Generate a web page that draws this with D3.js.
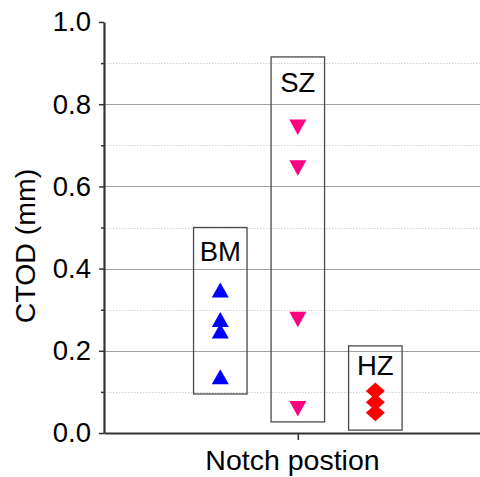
<!DOCTYPE html>
<html><head><meta charset="utf-8">
<script src="https://cdn.jsdelivr.net/npm/d3@7"></script>
<style>body{margin:0;background:#fff}svg{display:block}</style>
</head><body><svg id="c" width="480" height="477"></svg>
<script>
// ---- data ----
const groups = ["BM", "SZ", "HZ"];
const groupPos = [1, 2, 3];
const bmValues = [0.348, 0.276, 0.248, 0.137];
const szValues = [0.744, 0.645, 0.276, 0.059];
const hzValues = [0.102, 0.075, 0.049];
const boxLow = [0.095, 0.027, 0.007];
const boxHigh = [0.5, 0.915, 0.212];
const labelValues = [0.418, 0.829, 0.141];
const yTicks = [0.0, 0.2, 0.4, 0.6, 0.8, 1.0];
const yMinorTicks = [0.1, 0.3, 0.5, 0.7, 0.9];
const xTicks = [2];
const yTitle = "CTOD (mm)";
const xTitle = "Notch postion";

// ---- layout ----
const pLeft = 104, pRight = 480, pTop = 22, pBottom = 433;
const svg = d3.select("#c");
const x = d3.scaleLinear().domain([-0.5, 4.35]).range([pLeft, pRight]);
const y = d3.scaleLinear().domain([0, 1]).range([pBottom, pTop]);
const font = "'Liberation Sans', Arial, sans-serif";

// grid
svg.append("g").selectAll("line").data(yMinorTicks).join("line")
  .attr("x1", pLeft).attr("x2", pRight)
  .attr("y1", d => Math.round(y(d)) + 0.5).attr("y2", d => Math.round(y(d)) + 0.5)
  .attr("stroke", "#d4d4d4").attr("stroke-width", 1).attr("stroke-dasharray", "1.5,1.5");
svg.append("g").selectAll("line").data(yTicks.filter(d => d > 0 && d < 1)).join("line")
  .attr("x1", pLeft).attr("x2", pRight)
  .attr("y1", d => Math.round(y(d)) + 0.5).attr("y2", d => Math.round(y(d)) + 0.5)
  .attr("stroke", "#a0a0a0").attr("stroke-width", 1);

// boxes
const boxHalf = 0.345;
svg.append("g").selectAll("rect").data(groups).join("rect")
  .attr("x", (d, i) => x(groupPos[i] - boxHalf))
  .attr("width", (d, i) => x(groupPos[i] + boxHalf) - x(groupPos[i] - boxHalf))
  .attr("y", (d, i) => y(boxHigh[i]))
  .attr("height", (d, i) => y(boxLow[i]) - y(boxHigh[i]))
  .attr("fill", "none").attr("stroke", "#4a4a4a").attr("stroke-width", 1.3);

// labels
svg.append("g").selectAll("text").data(groups).join("text")
  .attr("x", (d, i) => x(groupPos[i]))
  .attr("y", (d, i) => y(labelValues[i]))
  .attr("text-anchor", "middle")
  .attr("font-family", font).attr("font-size", 27.5).attr("fill", "#000")
  .text(d => d);

// markers
const up = (w, h) => `M0,${-h/2}L${w/2},${h/2}L${-w/2},${h/2}Z`;
const down = (w, h) => `M${-w/2},${-h/2}L${w/2},${-h/2}L0,${h/2}Z`;
const diamond = (w, h) => `M0,${-h/2}L${w/2},0L0,${h/2}L${-w/2},0Z`;
svg.append("g").selectAll("path").data(bmValues).join("path")
  .attr("transform", d => `translate(${x(groupPos[0])},${y(d)})`)
  .attr("d", up(17, 15)).attr("fill", "#0000ff");
svg.append("g").selectAll("path").data(szValues).join("path")
  .attr("transform", d => `translate(${x(groupPos[1])},${y(d)})`)
  .attr("d", down(17, 15.5)).attr("fill", "#ff0080");
svg.append("g").selectAll("path").data(hzValues).join("path")
  .attr("transform", d => `translate(${x(groupPos[2])},${y(d)})`)
  .attr("d", diamond(19, 17)).attr("fill", "#ff0000");

// axes
const yAxis = svg.append("g").attr("transform", `translate(${pLeft},0)`)
  .call(d3.axisLeft(y).tickValues(yTicks).tickSize(5).tickSizeOuter(0).tickPadding(8).tickFormat(d3.format(".1f")));
const yMinor = svg.append("g").attr("transform", `translate(${pLeft},0)`)
  .call(d3.axisLeft(y).tickValues(yMinorTicks).tickSize(3).tickSizeOuter(0).tickFormat(""));
yMinor.select(".domain").remove();
const xAxis = svg.append("g").attr("transform", `translate(0,${pBottom})`)
  .call(d3.axisBottom(x).tickValues(xTicks).tickSize(7).tickSizeOuter(0).tickFormat(""));
[yAxis, yMinor, xAxis].forEach(g => {
  g.selectAll("line").attr("stroke", "#333").attr("stroke-width", 1.5);
  g.select(".domain").attr("stroke", "#333").attr("stroke-width", 2.2);
});
yAxis.selectAll("text").attr("font-family", font).attr("font-size", 27.5).attr("fill", "#000");

// titles
svg.append("text").attr("transform", `translate(35,246) rotate(-90)`)
  .attr("text-anchor", "middle").attr("font-family", font).attr("font-size", 28.5).attr("fill", "#000")
  .text(yTitle);
svg.append("text").attr("x", 292.5).attr("y", 470)
  .attr("text-anchor", "middle").attr("font-family", font).attr("font-size", 28.5).attr("fill", "#000")
  .text(xTitle);
</script></body></html>
